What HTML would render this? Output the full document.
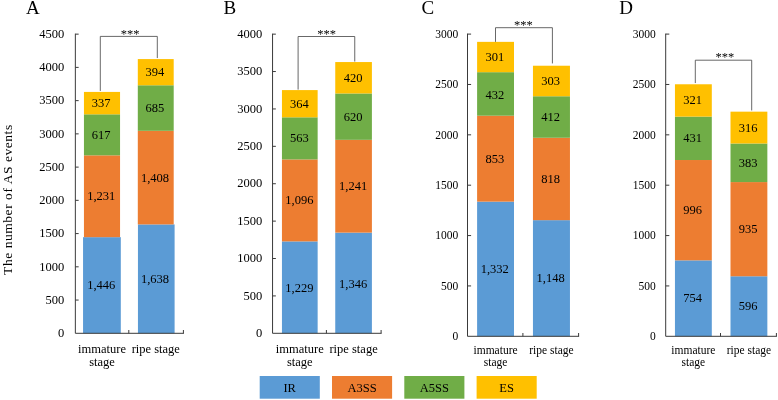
<!DOCTYPE html>
<html lang="en">
<head>
<meta charset="utf-8">
<title>AS events</title>
<style>
html,body{margin:0;padding:0;background:#fff;}
body{width:778px;height:400px;overflow:hidden;}
svg{display:block;will-change:transform;}
text{font-family:"Liberation Serif", "Times New Roman", serif;fill:#000;}
</style>
</head>
<body>
<svg width="778" height="400" viewBox="0 0 778 400">
<rect x="0" y="0" width="778" height="400" fill="#ffffff"/>
<text transform="translate(11.8,199.6) rotate(-90)" text-anchor="middle" font-size="13.5" letter-spacing="0.55">The number of AS events</text>
<!-- chart A -->
<text x="26" y="14.0" font-size="19">A</text>
<rect x="83.05" y="237.17" width="37.75" height="96.13" fill="#5B9BD5"/>
<text x="101.20" y="289.24" font-size="12.5" text-anchor="middle">1,446</text>
<rect x="83.95" y="155.34" width="36.10" height="81.83" fill="#ED7D31"/>
<text x="101.20" y="200.26" font-size="12.5" text-anchor="middle">1,231</text>
<rect x="83.95" y="114.32" width="36.10" height="41.02" fill="#70AD47"/>
<text x="101.20" y="138.83" font-size="12.5" text-anchor="middle">617</text>
<rect x="83.95" y="91.92" width="36.10" height="22.40" fill="#FFC000"/>
<text x="101.20" y="107.12" font-size="12.5" text-anchor="middle">337</text>
<rect x="137.95" y="224.41" width="36.65" height="108.89" fill="#5B9BD5"/>
<text x="154.95" y="282.85" font-size="12.5" text-anchor="middle">1,638</text>
<rect x="137.80" y="130.81" width="35.90" height="93.60" fill="#ED7D31"/>
<text x="154.95" y="181.61" font-size="12.5" text-anchor="middle">1,408</text>
<rect x="137.80" y="85.27" width="35.90" height="45.54" fill="#70AD47"/>
<text x="154.95" y="112.04" font-size="12.5" text-anchor="middle">685</text>
<rect x="137.80" y="59.08" width="35.90" height="26.19" fill="#FFC000"/>
<text x="154.95" y="76.18" font-size="12.5" text-anchor="middle">394</text>
<path d="M75.35 33.65V333.3H183.90" fill="none" stroke="#3a3a3a" stroke-width="1.0" stroke-linejoin="round"/>
<text x="64.2" y="337.00" font-size="12.5" text-anchor="end">0</text>
<text x="64.2" y="303.76" font-size="12.5" text-anchor="end">500</text>
<text x="64.2" y="270.52" font-size="12.5" text-anchor="end">1000</text>
<text x="64.2" y="237.28" font-size="12.5" text-anchor="end">1500</text>
<text x="64.2" y="204.04" font-size="12.5" text-anchor="end">2000</text>
<text x="64.2" y="170.81" font-size="12.5" text-anchor="end">2500</text>
<text x="64.2" y="137.57" font-size="12.5" text-anchor="end">3000</text>
<text x="64.2" y="104.33" font-size="12.5" text-anchor="end">3500</text>
<text x="64.2" y="71.09" font-size="12.5" text-anchor="end">4000</text>
<text x="64.2" y="37.85" font-size="12.5" text-anchor="end">4500</text>
<path d="M75.35 300.06h3.3 M75.35 266.82h3.3 M75.35 233.58h3.3 M75.35 200.34h3.3 M75.35 167.11h3.3 M75.35 133.87h3.3 M75.35 100.63h3.3 M75.35 67.39h3.3 M75.35 34.15h3.3 M128.80 333.3v-3.3 M183.40 333.3v-3.3" fill="none" stroke="#3a3a3a" stroke-width="1"/>
<text x="102.00" y="352.8" font-size="12.5" text-anchor="middle">immature</text>
<text x="102.00" y="365.9" font-size="12.5" text-anchor="middle">stage</text>
<text x="155.75" y="352.8" font-size="12.5" text-anchor="middle">ripe stage</text>
<path d="M100.30 90.92V36.4H157.30V58.08" fill="none" stroke="#4d4d4d" stroke-width="0.85"/>
<text x="130.2" y="37.7" font-size="12.5" text-anchor="middle">***</text>
<!-- chart B -->
<text x="223.5" y="14.0" font-size="19">B</text>
<rect x="281.95" y="241.39" width="35.70" height="91.91" fill="#5B9BD5"/>
<text x="299.40" y="292.14" font-size="12.5" text-anchor="middle">1,229</text>
<rect x="281.95" y="159.42" width="35.70" height="81.97" fill="#ED7D31"/>
<text x="299.40" y="204.40" font-size="12.5" text-anchor="middle">1,096</text>
<rect x="281.95" y="117.31" width="35.70" height="42.11" fill="#70AD47"/>
<text x="299.40" y="142.37" font-size="12.5" text-anchor="middle">563</text>
<rect x="281.95" y="90.09" width="35.70" height="27.22" fill="#FFC000"/>
<text x="299.40" y="107.70" font-size="12.5" text-anchor="middle">364</text>
<rect x="335.25" y="232.64" width="36.65" height="100.66" fill="#5B9BD5"/>
<text x="353.18" y="287.77" font-size="12.5" text-anchor="middle">1,346</text>
<rect x="335.25" y="139.82" width="36.65" height="92.81" fill="#ED7D31"/>
<text x="353.18" y="190.23" font-size="12.5" text-anchor="middle">1,241</text>
<rect x="335.25" y="93.46" width="36.65" height="46.37" fill="#70AD47"/>
<text x="353.18" y="120.64" font-size="12.5" text-anchor="middle">620</text>
<rect x="335.25" y="62.05" width="36.65" height="31.41" fill="#FFC000"/>
<text x="353.18" y="81.75" font-size="12.5" text-anchor="middle">420</text>
<path d="M272.55 33.65V333.3H381.60" fill="none" stroke="#3a3a3a" stroke-width="1.0" stroke-linejoin="round"/>
<text x="262.2" y="337.00" font-size="12.5" text-anchor="end">0</text>
<text x="262.2" y="299.61" font-size="12.5" text-anchor="end">500</text>
<text x="262.2" y="262.21" font-size="12.5" text-anchor="end">1000</text>
<text x="262.2" y="224.82" font-size="12.5" text-anchor="end">1500</text>
<text x="262.2" y="187.42" font-size="12.5" text-anchor="end">2000</text>
<text x="262.2" y="150.03" font-size="12.5" text-anchor="end">2500</text>
<text x="262.2" y="112.64" font-size="12.5" text-anchor="end">3000</text>
<text x="262.2" y="75.24" font-size="12.5" text-anchor="end">3500</text>
<text x="262.2" y="37.85" font-size="12.5" text-anchor="end">4000</text>
<path d="M272.55 295.91h3.3 M272.55 258.51h3.3 M272.55 221.12h3.3 M272.55 183.72h3.3 M272.55 146.33h3.3 M272.55 108.94h3.3 M272.55 71.54h3.3 M272.55 34.15h3.3 M326.40 333.3v-3.3 M381.10 333.3v-3.3" fill="none" stroke="#3a3a3a" stroke-width="1"/>
<text x="299.80" y="352.8" font-size="12.5" text-anchor="middle">immature</text>
<text x="299.80" y="365.9" font-size="12.5" text-anchor="middle">stage</text>
<text x="353.57" y="352.8" font-size="12.5" text-anchor="middle">ripe stage</text>
<path d="M298.10 89.59V36.5H354.75V61.55" fill="none" stroke="#4d4d4d" stroke-width="0.85"/>
<text x="326.5" y="37.8" font-size="12.5" text-anchor="middle">***</text>
<!-- chart C -->
<text x="421.5" y="14.0" font-size="19">C</text>
<rect x="477.10" y="201.62" width="36.90" height="134.68" fill="#5B9BD5"/>
<text x="494.75" y="272.96" font-size="12.5" text-anchor="middle">1,332</text>
<rect x="477.10" y="115.70" width="36.90" height="85.93" fill="#ED7D31"/>
<text x="494.75" y="162.66" font-size="12.5" text-anchor="middle">853</text>
<rect x="477.10" y="72.18" width="36.90" height="43.52" fill="#70AD47"/>
<text x="494.75" y="98.74" font-size="12.5" text-anchor="middle">432</text>
<rect x="477.10" y="41.86" width="36.90" height="30.32" fill="#FFC000"/>
<text x="494.75" y="61.02" font-size="12.5" text-anchor="middle">301</text>
<rect x="532.95" y="220.16" width="37.00" height="116.14" fill="#5B9BD5"/>
<text x="550.65" y="282.23" font-size="12.5" text-anchor="middle">1,148</text>
<rect x="532.95" y="137.76" width="37.00" height="82.40" fill="#ED7D31"/>
<text x="550.65" y="182.96" font-size="12.5" text-anchor="middle">818</text>
<rect x="532.95" y="96.26" width="37.00" height="41.50" fill="#70AD47"/>
<text x="550.65" y="121.01" font-size="12.5" text-anchor="middle">412</text>
<rect x="532.95" y="65.73" width="37.00" height="30.52" fill="#FFC000"/>
<text x="550.65" y="85.00" font-size="12.5" text-anchor="middle">303</text>
<path d="M467.5 33.60V336.3H579.10" fill="none" stroke="#3a3a3a" stroke-width="1.0" stroke-linejoin="round"/>
<text x="458.3" y="340.00" font-size="11.5" text-anchor="end">0</text>
<text x="458.3" y="289.63" font-size="11.5" text-anchor="end">500</text>
<text x="458.3" y="239.27" font-size="11.5" text-anchor="end">1000</text>
<text x="458.3" y="188.90" font-size="11.5" text-anchor="end">1500</text>
<text x="458.3" y="138.53" font-size="11.5" text-anchor="end">2000</text>
<text x="458.3" y="88.17" font-size="11.5" text-anchor="end">2500</text>
<text x="458.3" y="37.80" font-size="11.5" text-anchor="end">3000</text>
<path d="M467.5 285.93h3.6 M467.5 235.57h3.6 M467.5 185.20h3.6 M467.5 134.83h3.6 M467.5 84.47h3.6 M467.5 34.10h3.6 M522.90 336.3v-3.3 M578.60 336.3v-3.3" fill="none" stroke="#3a3a3a" stroke-width="1"/>
<text x="495.55" y="353.8" font-size="11.5" text-anchor="middle">immature</text>
<text x="495.55" y="366.2" font-size="11.5" text-anchor="middle">stage</text>
<text x="551.45" y="353.8" font-size="11.5" text-anchor="middle">ripe stage</text>
<path d="M495.50 41.86V27.7H552.40V63.43" fill="none" stroke="#4d4d4d" stroke-width="0.85"/>
<text x="523.4" y="28.5" font-size="12.5" text-anchor="middle">***</text>
<!-- chart D -->
<text x="619.2" y="14.0" font-size="19">D</text>
<rect x="674.95" y="260.35" width="36.85" height="75.95" fill="#5B9BD5"/>
<text x="692.67" y="302.32" font-size="12.5" text-anchor="middle">754</text>
<rect x="674.95" y="160.02" width="36.85" height="100.33" fill="#ED7D31"/>
<text x="692.67" y="214.18" font-size="12.5" text-anchor="middle">996</text>
<rect x="674.95" y="116.60" width="36.85" height="43.42" fill="#70AD47"/>
<text x="692.67" y="142.31" font-size="12.5" text-anchor="middle">431</text>
<rect x="674.95" y="84.27" width="36.85" height="32.34" fill="#FFC000"/>
<text x="692.67" y="104.43" font-size="12.5" text-anchor="middle">321</text>
<rect x="730.50" y="276.26" width="36.85" height="60.04" fill="#5B9BD5"/>
<text x="748.22" y="310.28" font-size="12.5" text-anchor="middle">596</text>
<rect x="730.50" y="182.08" width="36.85" height="94.19" fill="#ED7D31"/>
<text x="748.22" y="233.17" font-size="12.5" text-anchor="middle">935</text>
<rect x="730.50" y="143.50" width="36.85" height="38.58" fill="#70AD47"/>
<text x="748.22" y="166.79" font-size="12.5" text-anchor="middle">383</text>
<rect x="730.50" y="111.66" width="36.85" height="31.83" fill="#FFC000"/>
<text x="748.22" y="131.58" font-size="12.5" text-anchor="middle">316</text>
<path d="M665.7 33.60V336.3H776.90" fill="none" stroke="#3a3a3a" stroke-width="1.0" stroke-linejoin="round"/>
<text x="655.7" y="340.00" font-size="11.5" text-anchor="end">0</text>
<text x="655.7" y="289.63" font-size="11.5" text-anchor="end">500</text>
<text x="655.7" y="239.27" font-size="11.5" text-anchor="end">1000</text>
<text x="655.7" y="188.90" font-size="11.5" text-anchor="end">1500</text>
<text x="655.7" y="138.53" font-size="11.5" text-anchor="end">2000</text>
<text x="655.7" y="88.17" font-size="11.5" text-anchor="end">2500</text>
<text x="655.7" y="37.80" font-size="11.5" text-anchor="end">3000</text>
<path d="M665.7 285.93h3.6 M665.7 235.57h3.6 M665.7 185.20h3.6 M665.7 134.83h3.6 M665.7 84.47h3.6 M665.7 34.10h3.6 M720.50 336.3v-3.3 M776.40 336.3v-3.3" fill="none" stroke="#3a3a3a" stroke-width="1"/>
<text x="693.38" y="353.8" font-size="11.5" text-anchor="middle">immature</text>
<text x="693.38" y="366.2" font-size="11.5" text-anchor="middle">stage</text>
<text x="748.92" y="353.8" font-size="11.5" text-anchor="middle">ripe stage</text>
<path d="M695.30 83.07V60.2H751.70V110.46" fill="none" stroke="#4d4d4d" stroke-width="0.85"/>
<text x="724.8" y="60.8" font-size="12.5" text-anchor="middle">***</text>
<!-- legend -->
<rect x="259.7" y="376.0" width="60.1" height="22.7" fill="#5B9BD5"/>
<text x="289.7" y="391.6" font-size="12.5" text-anchor="middle">IR</text>
<rect x="332.0" y="376.0" width="60.1" height="22.7" fill="#ED7D31"/>
<text x="362.0" y="391.6" font-size="12.5" text-anchor="middle">A3SS</text>
<rect x="404.3" y="376.0" width="60.1" height="22.7" fill="#70AD47"/>
<text x="434.3" y="391.6" font-size="12.5" text-anchor="middle">A5SS</text>
<rect x="476.6" y="376.0" width="60.1" height="22.7" fill="#FFC000"/>
<text x="506.6" y="391.6" font-size="12.5" text-anchor="middle">ES</text>
</svg>
</body>
</html>
